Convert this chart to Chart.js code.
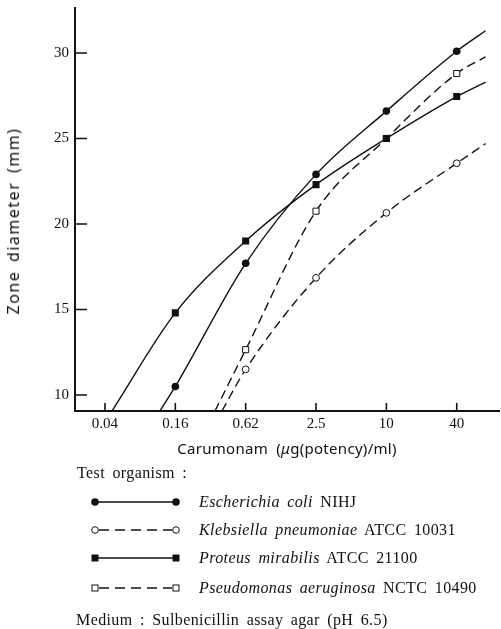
<!DOCTYPE html>
<html>
<head>
<meta charset="utf-8">
<script src="https://cdn.jsdelivr.net/npm/chart.js@4/dist/chart.umd.min.js"></script>
<style>
  html, body { margin: 0; padding: 0; background: #fff; }
  #wrap { position: relative; width: 501px; height: 629px; overflow: hidden; background: #fff; }
  canvas { position: absolute; left: 0; top: 0; }
  .t { position: absolute; white-space: nowrap; color: #111; line-height: 1; transform: translateY(-50%); }
  .serif { font-family: "Liberation Serif", "DejaVu Serif", serif; font-size: 16px; letter-spacing: 0.4px; word-spacing: 3px; }
  .sans { font-family: "Noto Sans", "DejaVu Sans", sans-serif; font-size: 15px; }
  #ytitle { position: absolute; left: 13px; top: 221px; transform: translate(-50%, -50%) rotate(-90deg);
            white-space: nowrap; font-family: "Noto Sans", sans-serif; font-size: 16px; letter-spacing: 1.5px; word-spacing: 3px; color: #111; line-height: 1; }
  #xtitle { left: 287px; top: 448px; transform: translate(-50%, -50%); letter-spacing: 0.3px; word-spacing: 4px; }
  .row svg { position: absolute; left: 88px; }
  .row { position: absolute; left: 0; width: 501px; height: 0; }
  .row .t { left: 199px; top: 0; }
</style>
</head>
<body>
<div id="wrap">
  <canvas id="c" width="505" height="629"></canvas>
  <div id="ytitle">Zone diameter (mm)</div>
  <div id="xtitle" class="t sans">Carumonam (<i>μ</i>g(potency)/ml)</div>
  <div class="t serif" style="left:77px; top:473px;">Test organism :</div>

  <div class="row" style="top:502px;">
    <svg width="96" height="14" style="top:-7px"><line x1="7" y1="7" x2="88" y2="7" stroke="#111" stroke-width="1.3"/><circle cx="7" cy="7" r="3.8" fill="#111"/><circle cx="88" cy="7" r="3.8" fill="#111"/></svg>
    <div class="t serif"><i>Escherichia coli</i> NIHJ</div>
  </div>
  <div class="row" style="top:530px;">
    <svg width="96" height="14" style="top:-7px"><line x1="11" y1="7" x2="84" y2="7" stroke="#111" stroke-width="1.3" stroke-dasharray="10,6"/><circle cx="7" cy="7" r="3.3" fill="#fff" stroke="#111" stroke-width="1"/><circle cx="88" cy="7" r="3.3" fill="#fff" stroke="#111" stroke-width="1"/></svg>
    <div class="t serif"><i>Klebsiella pneumoniae</i> ATCC 10031</div>
  </div>
  <div class="row" style="top:558px;">
    <svg width="96" height="14" style="top:-7px"><line x1="7" y1="7" x2="88" y2="7" stroke="#111" stroke-width="1.3"/><rect x="3.5" y="3.5" width="7" height="7" fill="#111"/><rect x="84.5" y="3.5" width="7" height="7" fill="#111"/></svg>
    <div class="t serif"><i>Proteus mirabilis</i> ATCC 21100</div>
  </div>
  <div class="row" style="top:588px;">
    <svg width="96" height="14" style="top:-7px"><line x1="11" y1="7" x2="84" y2="7" stroke="#111" stroke-width="1.3" stroke-dasharray="10,6"/><rect x="4" y="4" width="6" height="6" fill="#fff" stroke="#111" stroke-width="1"/><rect x="85" y="4" width="6" height="6" fill="#fff" stroke="#111" stroke-width="1"/></svg>
    <div class="t serif"><i>Pseudomonas aeruginosa</i> NCTC 10490</div>
  </div>

  <div class="t serif" style="left:76px; top:620px;">Medium : Sulbenicillin assay agar (pH 6.5)</div>
</div>

<script>
// Carumonam concentration series (µg(potency)/ml), fourfold dilutions
const concentrations = [0.0390625, 0.15625, 0.625, 2.5, 10, 40];
const xTickLabels = ['0.04', '0.16', '0.62', '2.5', '10', '40'];
const yTickValues = [10, 15, 20, 25, 30];

// Measured zone diameters (mm)
const ecoliConc = [0.15625, 0.625, 2.5, 10, 40];
const ecoliZone = [10.5, 17.7, 22.9, 26.6, 30.1];

const klebsiellaConc = [0.625, 2.5, 10, 40];
const klebsiellaZone = [11.5, 16.85, 20.65, 23.55];

const proteusConc = [0.15625, 0.625, 2.5, 10, 40];
const proteusZone = [14.8, 19.0, 22.3, 25.0, 27.45];

const pseudomonasConc = [0.625, 2.5, 10, 40];
const pseudomonasZone = [12.65, 20.75, 25.0, 28.8];

// Where each fitted curve leaves the plot frame: [concentration, zone]
const ecoliCurveEnds = [[0.1153, 9.06], [70.6, 31.3]];
const klebsiellaCurveEnds = [[0.391, 9.06], [70.6, 24.7]];
const proteusCurveEnds = [[0.0448, 9.06], [70.6, 28.3]];
const pseudomonasCurveEnds = [[0.341, 9.06], [70.6, 29.77]];

const toPoints = (xs, ys) => xs.map((x, i) => ({ x, y: ys[i] }));
const curve = (xs, ys, ends) => [
  { x: ends[0][0], y: ends[0][1] },
  ...toPoints(xs, ys),
  { x: ends[1][0], y: ends[1][1] }
];

const INK = '#111';

function curveSet(data, dash, order) {
  return {
    type: 'line', data, order,
    borderColor: INK, borderWidth: 1.4, borderDash: dash,
    pointRadius: 0, fill: false,
    cubicInterpolationMode: 'monotone'
  };
}
function markerSet(data, style, filled, radius, order) {
  return {
    type: 'line', data, order, showLine: false,
    pointStyle: style, pointRadius: radius,
    pointBackgroundColor: filled ? INK : '#fff',
    pointBorderColor: INK, pointBorderWidth: filled ? 0 : 1
  };
}

// Short tick marks pointing into the plot area
const inwardTicks = {
  id: 'inwardTicks',
  afterDatasetsDraw(chart) {
    const { ctx, chartArea: a, scales: { x, y } } = chart;
    ctx.save();
    ctx.strokeStyle = INK;
    ctx.lineWidth = 1.6;
    ctx.beginPath();
    y.ticks.forEach(t => {
      const py = y.getPixelForValue(t.value);
      ctx.moveTo(a.left, py); ctx.lineTo(a.left + 12, py);
    });
    x.ticks.forEach(t => {
      const px = x.getPixelForValue(t.value);
      ctx.moveTo(px, a.bottom); ctx.lineTo(px, a.bottom - 8);
    });
    ctx.stroke();
    ctx.restore();
  }
};

const tickFont = { family: '"Liberation Serif", "DejaVu Serif", serif', size: 15 };

new Chart(document.getElementById('c'), {
  type: 'line',
  data: {
    datasets: [
      markerSet(toPoints(ecoliConc, ecoliZone), 'circle', true, 3.8, 0),
      markerSet(toPoints(proteusConc, proteusZone), 'rect', true, 5, 1),
      markerSet(toPoints(klebsiellaConc, klebsiellaZone), 'circle', false, 3.4, 2),
      markerSet(toPoints(pseudomonasConc, pseudomonasZone), 'rect', false, 4.3, 3),
      curveSet(curve(ecoliConc, ecoliZone, ecoliCurveEnds), [], 10),
      curveSet(curve(klebsiellaConc, klebsiellaZone, klebsiellaCurveEnds), [9, 5], 11),
      curveSet(curve(proteusConc, proteusZone, proteusCurveEnds), [], 12),
      curveSet(curve(pseudomonasConc, pseudomonasZone, pseudomonasCurveEnds), [9, 5], 13)
    ]
  },
  options: {
    responsive: false,
    animation: false,
    devicePixelRatio: 1,
    layout: { padding: { top: 8, right: 1, left: 0, bottom: 0 } },
    plugins: { legend: { display: false }, tooltip: { enabled: false } },
    scales: {
      x: {
        type: 'logarithmic',
        min: 0.02164, max: 93.3,
        afterBuildTicks: s => { s.ticks = concentrations.map(v => ({ value: v })); },
        afterFit: s => { s.height = 218; s.paddingLeft = 0; s.paddingRight = 0; },
        grid: { display: false, drawTicks: false },
        border: { display: true, color: INK, width: 2 },
        ticks: {
          autoSkip: false, maxRotation: 0, padding: 4, color: INK, font: tickFont,
          callback: (v, i) => xTickLabels[i]
        }
      },
      y: {
        type: 'linear',
        min: 9.064, max: 32.63,
        afterBuildTicks: s => { s.ticks = yTickValues.map(v => ({ value: v })); },
        afterFit: s => { s.width = 75; s.paddingTop = 0; s.paddingBottom = 0; },
        grid: { display: false, drawTicks: false },
        border: { display: true, color: INK, width: 2 },
        ticks: { padding: 6, color: INK, font: tickFont, callback: v => String(v) }
      }
    }
  },
  plugins: [inwardTicks]
});
</script>
</body>
</html>
